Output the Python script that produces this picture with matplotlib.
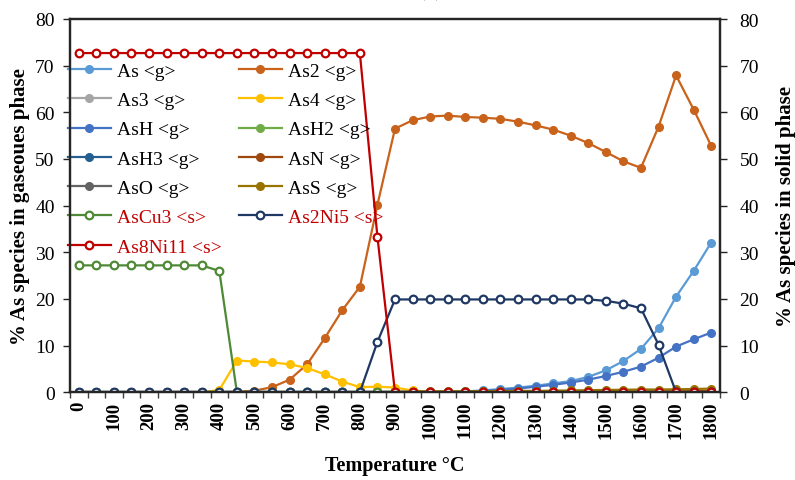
import matplotlib
matplotlib.use("Agg")
import matplotlib.pyplot as plt
from matplotlib.ticker import FixedLocator

# ---------------- data ----------------
temps = list(range(0, 1801, 50))  # 37 categories

as_g = [0]*22 + [0.2, 0.4, 0.7, 1.0, 1.4, 1.9, 2.4, 3.3, 4.7, 6.7, 9.3, 13.7, 20.5, 26.0, 32.1]
as2_g = [0]*9 + [0.1, 0.35, 1.1, 2.7, 6.0, 11.6, 17.6, 22.6, 40.2, 56.5, 58.3, 59.1, 59.3, 59.0,
                 58.85, 58.6, 58.0, 57.2, 56.3, 55.0, 53.4, 51.5, 49.5, 48.1, 56.9, 67.9, 60.6, 52.8]
as3_g = [0]*37
as4_g = [0]*8 + [0.5, 6.8, 6.6, 6.4, 6.0, 5.2, 3.85, 2.3, 1.1, 1.2, 1.0, 0.4] + [0.1]*17
ash_g = [0]*22 + [0.15, 0.3, 0.5, 0.8, 1.2, 1.6, 2.1, 2.7, 3.5, 4.4, 5.5, 7.4, 9.8, 11.35, 12.8]
ash2_g = [0]*37
ash3_g = [0]*37
asn_g = [0]*28 + [0.05, 0.1, 0.1, 0.15, 0.15, 0.2, 0.2, 0.25, 0.3]
aso_g = [0]*37
ass_g = [0]*18 + [0.1, 0.15, 0.2, 0.2, 0.2, 0.25, 0.25, 0.3, 0.3, 0.35, 0.4, 0.45, 0.5,
                  0.55, 0.6, 0.6, 0.65, 0.7, 0.8]
ascu3_s = [27.2]*8 + [26.0] + [0]*28
as2ni5_s = [0]*17 + [10.8] + [19.9]*12 + [19.6, 19.0, 18.0, 10.2, 0, 0, 0]
as8ni11_s = [72.7]*17 + [33.3] + [0]*19

series = [
    ("As <g>", as_g, "#5B9BD5", "g"),
    ("As2 <g>", as2_g, "#C9621B", "g"),
    ("As3 <g>", as3_g, "#A5A5A5", "g"),
    ("As4 <g>", as4_g, "#FFC000", "g"),
    ("AsH <g>", ash_g, "#4472C4", "g"),
    ("AsH2 <g>", ash2_g, "#70AD47", "g"),
    ("AsH3 <g>", ash3_g, "#255E91", "g"),
    ("AsN <g>", asn_g, "#9E480E", "g"),
    ("AsO <g>", aso_g, "#636363", "g"),
    ("AsS <g>", ass_g, "#997300", "g"),
    ("AsCu3 <s>", ascu3_s, "#4E8A35", "s"),
    ("As2Ni5 <s>", as2ni5_s, "#1F3864", "s"),
    ("As8Ni11 <s>", as8ni11_s, "#C00000", "s"),
]

y_ticks = [0, 10, 20, 30, 40, 50, 60, 70, 80]
x_labels = list(range(0, 1801, 100))

# ---------------- figure ----------------
plt.rcParams['font.family'] = ['Liberation Serif', 'DejaVu Serif']
fig = plt.figure(figsize=(7.95, 4.81), dpi=100)
ax = fig.add_axes([70/795, 1-393.3/481, 650/795, 373.3/481])

handles = {}
for name, vals, col, kind in series:
    if kind == "g":
        h, = ax.plot(temps, vals, color=col, lw=1.6, marker='o', ms=5.5,
                     mfc=col, mec=col, label=name)
    else:
        h, = ax.plot(temps, vals, color=col, lw=1.6, marker='o', ms=5.5,
                     mfc='white', mec=col, mew=1.6, label=name)
    handles[name] = h

ax.set_xlim(-25, 1825)
ax.set_ylim(0, 80)
ax.xaxis.set_major_locator(FixedLocator(x_labels))
ax.set_xticklabels([str(v) for v in x_labels], rotation=90, fontsize=13.5,
                   fontweight='bold')
ax.xaxis.set_minor_locator(FixedLocator([t - 25 for t in temps] + [1825]))
ax.tick_params(axis='x', which='major', length=0, pad=6)
ax.tick_params(axis='x', which='minor', length=4, width=1, direction='out',
               color='#404040')
ax.set_yticks(y_ticks)
ax.set_yticklabels([str(v) for v in y_ticks], fontsize=14)
ax.tick_params(axis='y', length=5, width=1, direction='out', color='#222222', pad=6)

for s in ax.spines.values():
    s.set_color('#262626')
    s.set_linewidth(1.6)

ax2 = ax.twinx()
ax2.set_ylim(0, 80)
ax2.set_yticks(y_ticks)
ax2.set_yticklabels([str(v) for v in y_ticks], fontsize=14)
ax2.tick_params(axis='y', length=5, width=1, direction='out', color='#222222', pad=9)
for s in ax2.spines.values():
    s.set_color('#262626')
    s.set_linewidth(1.6)

ax.set_xlabel("Temperature \u00b0C", fontsize=14.5, fontweight='bold', labelpad=12)
ax.set_ylabel("% As species in gaseoues phase", fontsize=15, fontweight='bold', labelpad=4)
ax2.set_ylabel("% As species in solid phase", fontsize=15, fontweight='bold', labelpad=12)

order = ["As <g>", "As3 <g>", "AsH <g>", "AsH3 <g>", "AsO <g>", "AsCu3 <s>", "As8Ni11 <s>",
         "As2 <g>", "As4 <g>", "AsH2 <g>", "AsN <g>", "AsS <g>", "As2Ni5 <s>"]
leg = ax.legend([handles[n] for n in order], order, ncol=2, frameon=False,
                loc='upper left', bbox_to_anchor=(-0.015, 0.905), fontsize=14,
                handlelength=2.2, handletextpad=0.3, columnspacing=0.9,
                labelspacing=0.6, borderaxespad=0)
for t in leg.get_texts():
    if "<s>" in t.get_text():
        t.set_color("#C00000")

fig.text(0.541, 1.016, "(a)", ha='center', va='center', fontsize=16)

fig.savefig("out.png", dpi=100)
